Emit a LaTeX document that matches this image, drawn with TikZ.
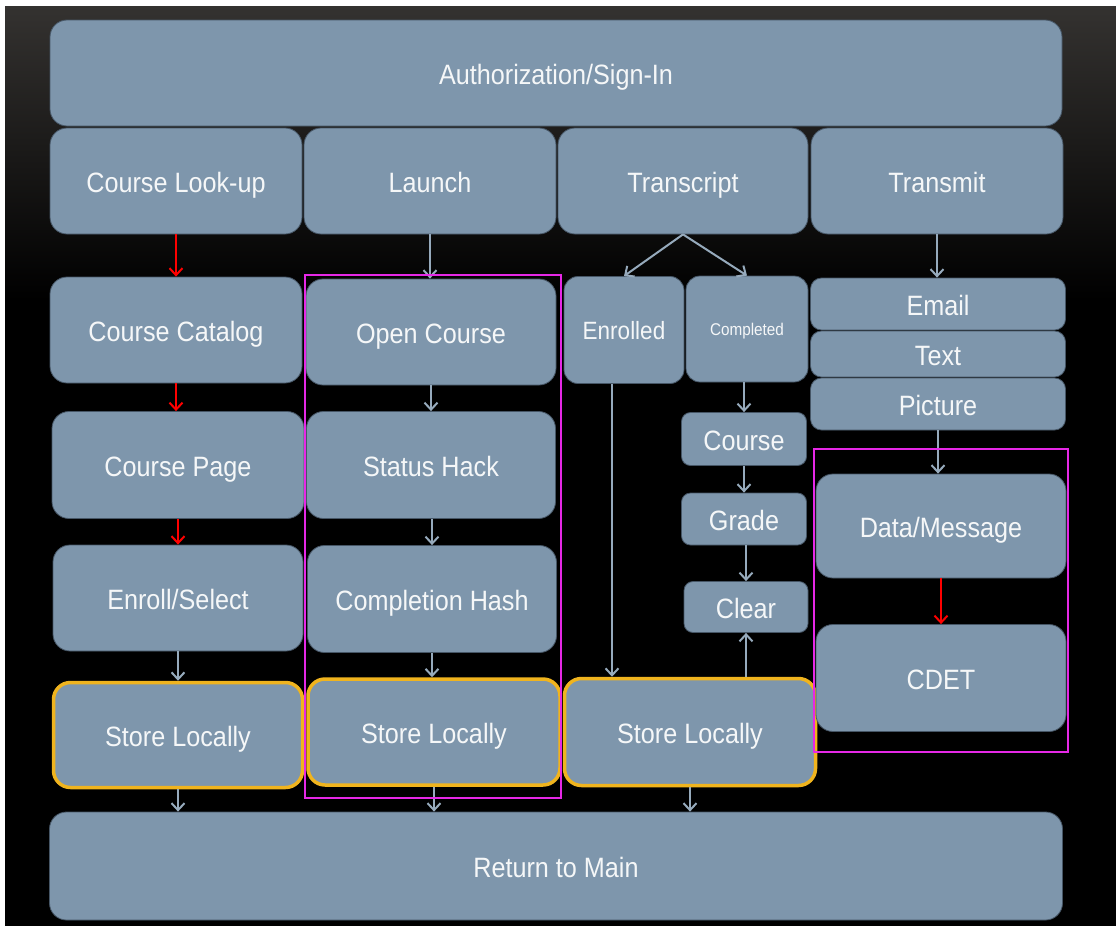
\documentclass[tikz,border=0pt]{standalone}
\usepackage{fontspec}
\setmainfont{Liberation Sans}[FakeStretch=0.9]
\usepackage{tikz}
\usetikzlibrary{arrows.meta}
\definecolor{boxfill}{RGB}{126,150,172}
\definecolor{boxline}{RGB}{70,86,102}
\definecolor{arrgray}{RGB}{150,170,188}
\definecolor{storeline}{RGB}{240,180,30}
\definecolor{framepink}{RGB}{230,40,230}
\definecolor{bgtop}{RGB}{52,50,48}

\begin{document}
\begin{tikzpicture}[x=1pt,y=-1pt,
  box/.style={draw=boxline,line width=0.8pt,fill=boxfill,rounded corners=17pt,
    text=white!92!boxfill,font=\fontsize{28}{30}\selectfont,inner sep=0pt,
    text height=22pt,text depth=0pt},
  smallbox/.style={box,rounded corners=9pt},
  storebox/.style={box,draw=storeline,line width=3.5pt},
  arr/.style={draw=arrgray,line width=2pt,-{Straight Barb[length=7pt,width=13pt]}},
  redarr/.style={arr,draw=red},
  pinkframe/.style={draw=framepink,line width=2.2pt}]
  \useasboundingbox [fill=white] (0,0) rectangle (1116,926);
  \fill [black] (5,6) rectangle (1116,926);
  \shade [top color=bgtop,bottom color=black] (5,6) rectangle (1116,300);

  % top and bottom bars
  \node [box,minimum width=1012pt,minimum height=106pt] (auth) at (556,73) {Authorization/Sign-In};
  \node [box,minimum width=1013pt,minimum height=108pt] (ret) at (556,866) {Return to Main};

  % second row
  \node [box,minimum width=252pt,minimum height=106pt] (look) at (176,181) {Course Look-up};
  \node [box,minimum width=252pt,minimum height=106pt] (launch) at (430,181) {Launch};
  \node [box,minimum width=250pt,minimum height=106pt] (trans) at (683,181) {Transcript};
  \node [box,minimum width=252pt,minimum height=106pt] (transmit) at (937,181) {Transmit};

  % course look-up column
  \node [box,minimum width=252pt,minimum height=106pt] (cat) at (176,330) {Course Catalog};
  \node [box,minimum width=252pt,minimum height=107pt] (page) at (178,465) {Course Page};
  \node [box,minimum width=250pt,minimum height=106pt] (enroll) at (178,598) {Enroll/Select};
  \node [storebox,minimum width=249pt,minimum height=105pt] (st1) at (178,735) {Store Locally};

  % launch column
  \node [box,minimum width=250pt,minimum height=106pt] (open) at (431,332) {Open Course};
  \node [box,minimum width=249pt,minimum height=107pt] (hack) at (431,465) {Status Hack};
  \node [box,minimum width=249pt,minimum height=107pt] (hash) at (432,599) {Completion Hash};
  \node [storebox,minimum width=252pt,minimum height=106pt] (st2) at (434,732) {Store Locally};

  % transcript column
  \node [box,rounded corners=14pt,minimum width=120pt,minimum height=107pt,
    font=\fontsize{25}{27}\selectfont,text height=19pt] (enr) at (624,330) {Enrolled};
  \node [box,rounded corners=14pt,minimum width=122pt,minimum height=106pt,
    font=\fontsize{17}{19}\selectfont,text height=12pt] (comp) at (747,329) {Completed};
  \node [smallbox,minimum width=125pt,minimum height=53pt] (course) at (744,439) {Course};
  \node [smallbox,minimum width=125pt,minimum height=52pt] (grade) at (744,519) {Grade};
  \node [smallbox,minimum width=124pt,minimum height=51pt] (clear) at (746,607) {Clear};
  \node [storebox,minimum width=251pt,minimum height=107pt] (st3) at (690,732) {Store Locally};

  % transmit column
  \node [smallbox,rounded corners=11pt,minimum width=255pt,minimum height=52pt] (email) at (938,304) {Email};
  \node [smallbox,rounded corners=11pt,minimum width=255pt,minimum height=46pt] (txt) at (938,354) {Text};
  \node [smallbox,rounded corners=11pt,minimum width=255pt,minimum height=52pt] (pic) at (938,404) {Picture};
  \node [box,minimum width=250pt,minimum height=104pt] (data) at (941,526) {Data/Message};
  \node [box,minimum width=250pt,minimum height=107pt] (cdet) at (941,678) {CDET};

  % connectors
  \draw [redarr] (look.south) -- (look.south |- cat.north);
  \draw [redarr] (cat.south) -- (cat.south |- page.north);
  \draw [redarr] (page.south -| enroll.north) -- (enroll.north);
  \draw [arr] (enroll.south) -- (st1.north);
  \draw [arr] (st1.south) -- (st1.south |- ret.north);

  \draw [arr] (launch.south) -- (launch.south |- open.north);
  \draw [arr] (open.south) -- (hack.north);
  \draw [arr] (hack.south -| hash.north) -- (hash.north);
  \draw [arr] (hash.south) -- (hash.south |- st2.north);
  \draw [arr] (st2.south) -- (st2.south |- ret.north);

  \draw [arr] (trans.south) -- (enr.north);
  \draw [arr] (trans.south) -- (comp.north);
  \draw [arr] ([xshift=-12pt]enr.south) -- ([xshift=-12pt]enr.south |- st3.north);
  \draw [arr] (comp.south -| course.north) -- (course.north);
  \draw [arr] (course.south) -- (grade.north);
  \draw [arr] (grade.south -| clear.north) -- (clear.north);
  \draw [arr] (st3.north -| clear.south) -- (clear.south);
  \draw [arr] (st3.south) -- (st3.south |- ret.north);

  \draw [arr] (transmit.south) -- (transmit.south |- email.north);
  \draw [arr] (pic.south) -- (pic.south |- data.north);
  \draw [redarr] (data.south) -- (cdet.north);

  % highlight frames
  \draw [pinkframe] (305,275) rectangle (561,798);
  \draw [pinkframe] (814,449) rectangle (1068,752);
\end{tikzpicture}
\end{document}
